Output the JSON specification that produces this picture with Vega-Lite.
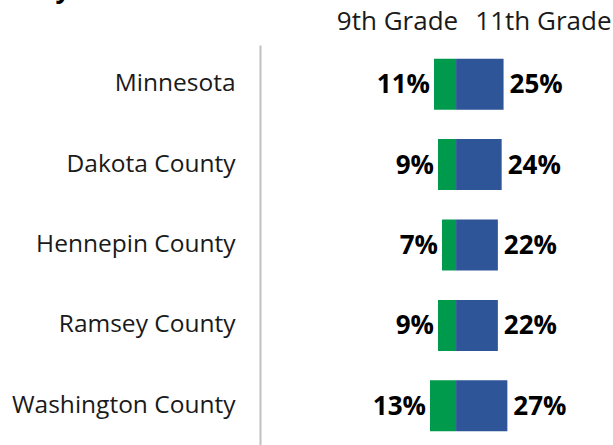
{
  "$schema": "https://vega.github.io/schema/vega-lite/v6.json",
  "autosize": {"type": "none"},
  "padding": {"left": 260, "top": 45, "right": 0, "bottom": 0},
  "width": 353,
  "height": 400,
  "background": "white",
  "title": {
    "text": "days.",
    "anchor": "start",
    "frame": "bounds",
    "font": "Open Sans",
    "fontSize": 26,
    "fontWeight": "bold",
    "color": "#000000",
    "dx": 12,
    "dy": -1
  },
  "config": {"view": {"stroke": null}},
  "data": {
    "values": [
      {"region": "Minnesota", "g9": 0.11, "g11": 0.25},
      {"region": "Dakota County", "g9": 0.09, "g11": 0.24},
      {"region": "Hennepin County", "g9": 0.07, "g11": 0.22},
      {"region": "Ramsey County", "g9": 0.09, "g11": 0.22},
      {"region": "Washington County", "g9": 0.13, "g11": 0.27}
    ]
  },
  "encoding": {
    "y": {
      "field": "region",
      "type": "nominal",
      "sort": null,
      "scale": {"paddingInner": 0.366, "paddingOuter": 0.17},
      "axis": {
        "title": null,
        "ticks": false,
        "domainColor": "#c0c0c0",
        "domainWidth": 2,
        "labelPadding": 25,
        "labelFont": "Open Sans",
        "labelFontSize": 24.5,
        "labelColor": "#1a1a1a",
        "labelLimit": 400
      }
    }
  },
  "layer": [
    {
      "encoding": {
        "x": {
          "field": "g9",
          "type": "quantitative",
          "scale": {"domain": [-0.785, 0.98], "reverse": true, "nice": false},
          "axis": null
        }
      },
      "layer": [
        {"mark": {"type": "bar", "color": "#009a4d"}},
        {
          "mark": {"type": "text", "align": "right", "baseline": "middle", "dx": -4, "dy": 1, "font": "Open Sans", "fontSize": 26, "fontWeight": "bold", "color": "#000000"},
          "encoding": {"text": {"field": "g9", "type": "quantitative", "format": ".0%"}}
        }
      ]
    },
    {
      "encoding": {
        "x": {
          "field": "g11",
          "type": "quantitative",
          "scale": {"domain": [-1.032, 0.826], "nice": false},
          "axis": {
            "orient": "top",
            "title": null,
            "domain": false,
            "ticks": false,
            "tickSize": 0,
            "grid": false,
            "values": [-0.311, 0.457],
            "labelExpr": "datum.value < 0 ? '9th Grade' : '11th Grade'",
            "labelAlign": "center",
            "labelBaseline": "alphabetic",
            "labelPadding": 16,
            "labelFont": "Open Sans",
            "labelFontSize": 26,
            "labelColor": "#1a1a1a",
            "labelFlush": false,
            "labelOverlap": false
          }
        }
      },
      "layer": [
        {"mark": {"type": "bar", "color": "#2e5597"}},
        {
          "mark": {"type": "text", "align": "left", "baseline": "middle", "dx": 6, "dy": 1, "font": "Open Sans", "fontSize": 26, "fontWeight": "bold", "color": "#000000"},
          "encoding": {"text": {"field": "g11", "type": "quantitative", "format": ".0%"}}
        }
      ]
    }
  ],
  "resolve": {"scale": {"x": "independent"}}
}
